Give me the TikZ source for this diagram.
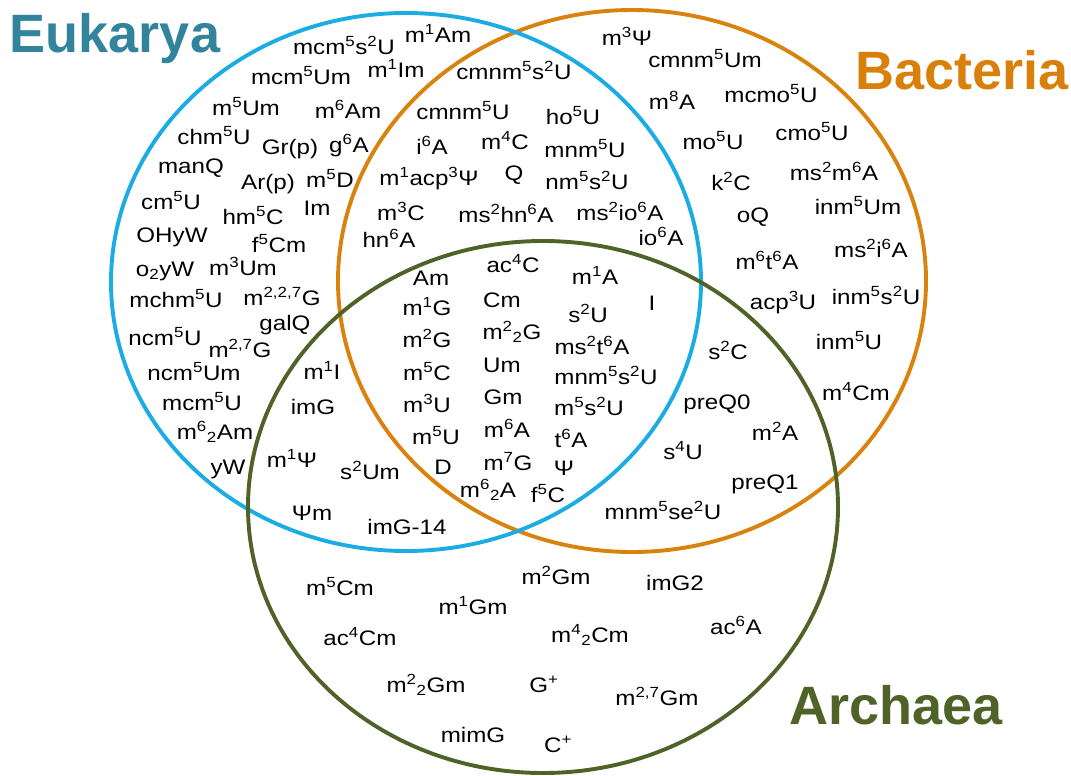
\documentclass[tikz,border=0pt]{standalone}
\usepackage{fontspec}
\setmainfont{Liberation Sans}
\definecolor{eukblue}{RGB}{27,172,228}
\definecolor{bacorange}{RGB}{217,130,14}
\definecolor{arcgreen}{RGB}{79,98,40}
\definecolor{euktitle}{RGB}{49,132,155}
\definecolor{bactitle}{RGB}{217,128,12}
\newcommand\upx[1]{\textsuperscript{#1}}
\newcommand\dnx[1]{\textsubscript{#1}}
\tikzset{
  lbl/.style={font=\fontsize{21}{24}\selectfont, xscale=1.15, inner sep=0pt, text height=14.7pt, text depth=0pt, anchor=center},
  ttl/.style={font=\fontsize{54}{60}\selectfont\bfseries, inner sep=0pt, text height=39pt, text depth=0pt, anchor=center},
  ring/.style={line width=3.9pt}
}
\begin{document}
\begin{tikzpicture}[x=1pt,y=-1pt]
\useasboundingbox (0,0) rectangle (1071,776);
% circles
\draw[ring, bacorange] (632,281) ellipse [x radius=294pt, y radius=271pt];
\draw[ring, eukblue] (406,282) ellipse [x radius=295pt, y radius=269pt];
\draw[ring, arcgreen] (543,507) ellipse [x radius=295pt, y radius=266pt];
% titles
\node[ttl, text=euktitle] (tEuk) at (115,33) {Eukarya};
\node[ttl, text=bactitle] (tBac) at (962,70) {Bacteria};
\node[ttl, text=arcgreen] (tArc) at (896,705) {Archaea};
% Eukarya only
\node[lbl] (e1) at (344,47) {mcm\upx{5}s\upx{2}U};
\node[lbl] (e2) at (438,35) {m\upx{1}Am};
\node[lbl] (e3) at (301,77) {mcm\upx{5}Um};
\node[lbl] (e4) at (396,70) {m\upx{1}Im};
\node[lbl] (e5) at (246,108) {m\upx{5}Um};
\node[lbl] (e6) at (348,111) {m\upx{6}Am};
\node[lbl] (e7) at (214,137) {chm\upx{5}U};
\node[lbl] (e8) at (290,147) {Gr(p)};
\node[lbl] (e9) at (349,145) {g\upx{6}A};
\node[lbl] (e10) at (191,166) {manQ};
\node[lbl] (e11) at (268,182) {Ar(p)};
\node[lbl] (e12) at (330,180) {m\upx{5}D};
\node[lbl] (e13) at (171,202) {cm\upx{5}U};
\node[lbl] (e14) at (253,217) {hm\upx{5}C};
\node[lbl] (e15) at (317,208) {Im};
\node[lbl] (e16) at (172,235) {OHyW};
\node[lbl] (e17) at (279,245) {f\upx{5}Cm};
\node[lbl] (e18) at (165,269) {o\dnx{2}yW};
\node[lbl] (e19) at (243,268) {m\upx{3}Um};
\node[lbl] (e20) at (176,300) {mchm\upx{5}U};
\node[lbl] (e21) at (282,298) {m\upx{2,2,7}G};
\node[lbl] (e22) at (285,323) {galQ};
\node[lbl] (e23) at (165,338) {ncm\upx{5}U};
\node[lbl] (e24) at (240,350) {m\upx{2,7}G};
\node[lbl] (e25) at (194,373) {ncm\upx{5}Um};
\node[lbl] (e26) at (202,403) {mcm\upx{5}U};
\node[lbl] (e27) at (215,432) {m\upx{6}\dnx{2}Am};
\node[lbl] (e28) at (228,467) {yW};
% Eukarya & Bacteria
\node[lbl] (eb1) at (514,72) {cmnm\upx{5}s\upx{2}U};
\node[lbl] (eb2) at (463,112) {cmnm\upx{5}U};
\node[lbl] (eb3) at (573,117) {ho\upx{5}U};
\node[lbl] (eb4) at (432,147) {i\upx{6}A};
\node[lbl] (eb5) at (505,142) {m\upx{4}C};
\node[lbl] (eb6) at (585,150) {mnm\upx{5}U};
\node[lbl] (eb7) at (429,178) {m\upx{1}acp\upx{3}Ψ};
\node[lbl] (eb8) at (514,173) {Q};
\node[lbl] (eb9) at (587,182) {nm\upx{5}s\upx{2}U};
\node[lbl] (eb10) at (401,213) {m\upx{3}C};
\node[lbl] (eb11) at (506,215) {ms\upx{2}hn\upx{6}A};
\node[lbl] (eb12) at (620,213) {ms\upx{2}io\upx{6}A};
\node[lbl] (eb13) at (389,240) {hn\upx{6}A};
\node[lbl] (eb14) at (661,238) {io\upx{6}A};
% Bacteria only
\node[lbl] (b1) at (627,38) {m\upx{3}Ψ};
\node[lbl] (b2) at (705,60) {cmnm\upx{5}Um};
\node[lbl] (b3) at (672,102) {m\upx{8}A};
\node[lbl] (b4) at (771,95) {mcmo\upx{5}U};
\node[lbl] (b5) at (713,142) {mo\upx{5}U};
\node[lbl] (b6) at (812,133) {cmo\upx{5}U};
\node[lbl] (b7) at (731,183) {k\upx{2}C};
\node[lbl] (b8) at (834,173) {ms\upx{2}m\upx{6}A};
\node[lbl] (b9) at (753,215) {oQ};
\node[lbl] (b10) at (858,207) {inm\upx{5}Um};
\node[lbl] (b11) at (767,262) {m\upx{6}t\upx{6}A};
\node[lbl] (b12) at (871,250) {ms\upx{2}i\upx{6}A};
\node[lbl] (b13) at (783,302) {acp\upx{3}U};
\node[lbl] (b14) at (876,297) {inm\upx{5}s\upx{2}U};
\node[lbl] (b15) at (849,342) {inm\upx{5}U};
\node[lbl] (b16) at (856,393) {m\upx{4}Cm};
% all three
\node[lbl] (c1) at (431,278) {Am};
\node[lbl] (c2) at (513,265) {ac\upx{4}C};
\node[lbl] (c3) at (595,277) {m\upx{1}A};
\node[lbl] (c4) at (427,308) {m\upx{1}G};
\node[lbl] (c5) at (502,300) {Cm};
\node[lbl] (c6) at (652,303) {I};
\node[lbl] (c7) at (588,315) {s\upx{2}U};
\node[lbl] (c8) at (427,340) {m\upx{2}G};
\node[lbl] (c9) at (512,332) {m\upx{2}\dnx{2}G};
\node[lbl] (c10) at (592,347) {ms\upx{2}t\upx{6}A};
\node[lbl] (c11) at (427,373) {m\upx{5}C};
\node[lbl] (c12) at (502,365) {Um};
\node[lbl] (c13) at (606,377) {mnm\upx{5}s\upx{2}U};
\node[lbl] (c14) at (427,405) {m\upx{3}U};
\node[lbl] (c15) at (503,397) {Gm};
\node[lbl] (c16) at (589,408) {m\upx{5}s\upx{2}U};
\node[lbl] (c17) at (436,437) {m\upx{5}U};
\node[lbl] (c18) at (507,430) {m\upx{6}A};
\node[lbl] (c19) at (571,440) {t\upx{6}A};
\node[lbl] (c20) at (443,467) {D};
\node[lbl] (c21) at (508,463) {m\upx{7}G};
\node[lbl] (c22) at (564,468) {Ψ};
\node[lbl] (c23) at (488,490) {m\upx{6}\dnx{2}A};
\node[lbl] (c24) at (548,495) {f\upx{5}C};
% Eukarya & Archaea
\node[lbl] (ea1) at (322,372) {m\upx{1}I};
\node[lbl] (ea2) at (313,407) {imG};
\node[lbl] (ea3) at (292,460) {m\upx{1}Ψ};
\node[lbl] (ea4) at (370,472) {s\upx{2}Um};
\node[lbl] (ea5) at (312,513) {Ψm};
\node[lbl] (ea6) at (407,527) {imG-14};
% Bacteria & Archaea
\node[lbl] (ba1) at (728,352) {s\upx{2}C};
\node[lbl] (ba2) at (717,402) {preQ0};
\node[lbl] (ba3) at (775,433) {m\upx{2}A};
\node[lbl] (ba4) at (683,452) {s\upx{4}U};
\node[lbl] (ba5) at (765,482) {preQ1};
\node[lbl] (ba6) at (663,512) {mnm\upx{5}se\upx{2}U};
% Archaea only
\node[lbl] (a1) at (556,577) {m\upx{2}Gm};
\node[lbl] (a2) at (340,588) {m\upx{5}Cm};
\node[lbl] (a3) at (473,607) {m\upx{1}Gm};
\node[lbl] (a4) at (675,583) {imG2};
\node[lbl] (a5) at (360,638) {ac\upx{4}Cm};
\node[lbl] (a6) at (590,635) {m\upx{4}\dnx{2}Cm};
\node[lbl] (a7) at (736,627) {ac\upx{6}A};
\node[lbl] (a8) at (426,685) {m\upx{2}\dnx{2}Gm};
\node[lbl] (a9) at (544,685) {G\upx{+}};
\node[lbl] (a10) at (657,698) {m\upx{2,7}Gm};
\node[lbl] (a11) at (473,735) {mimG};
\node[lbl] (a12) at (558,745) {C\upx{+}};
\end{tikzpicture}
\end{document}
